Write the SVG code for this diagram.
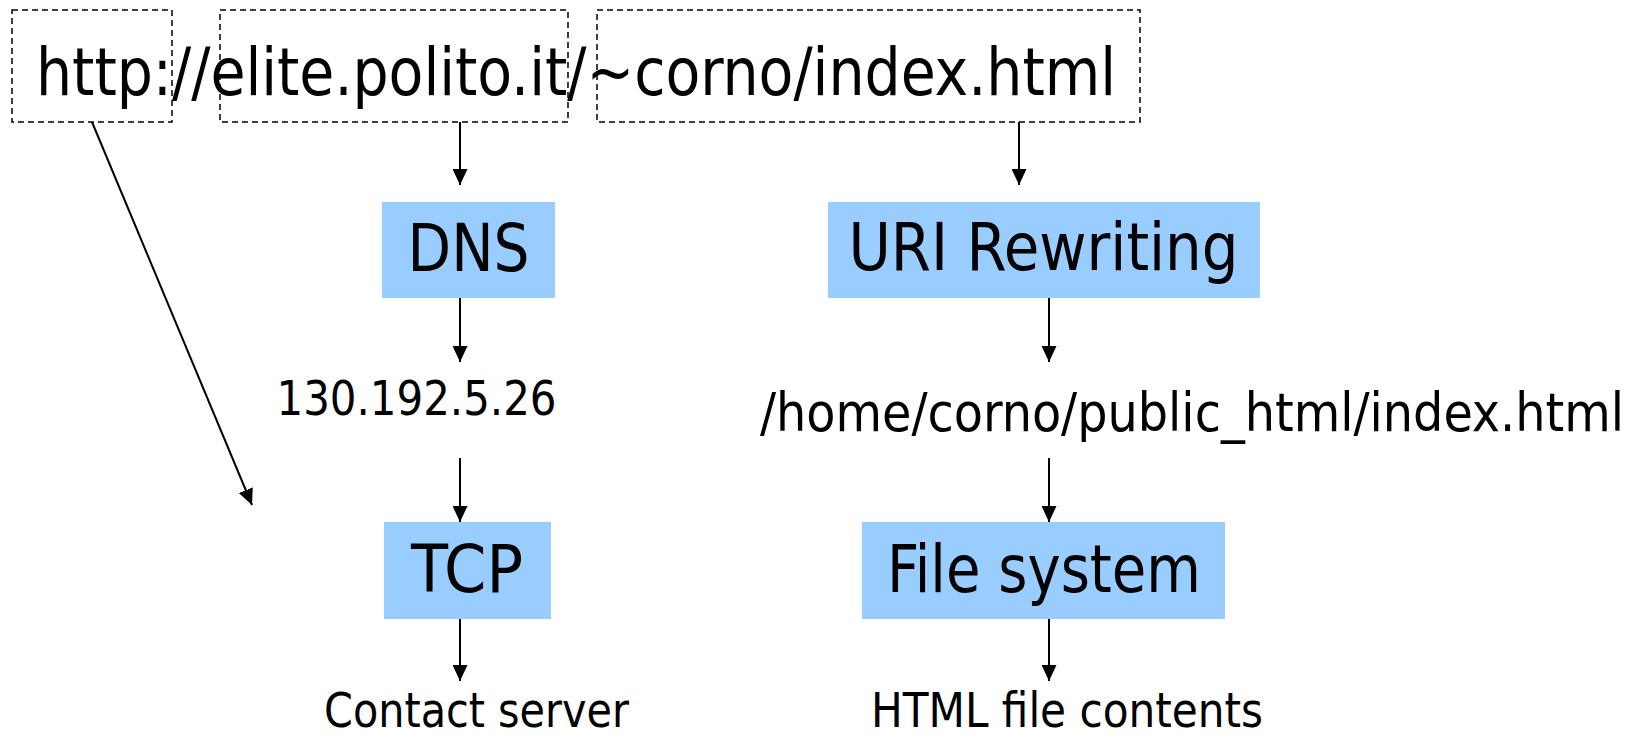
<svg xmlns="http://www.w3.org/2000/svg" width="1643" height="738" viewBox="0 0 1643 738">
<style>
text{font-family:"DejaVu Sans Condensed","DejaVu Sans",sans-serif;font-stretch:condensed;fill:#000}
.big{font-size:65px}
.mid{font-size:53px}
.sm{font-size:48px}
.dash{fill:none;stroke:#000;stroke-width:1.5;stroke-dasharray:6 4}
.box{fill:#99CCFF}
.conn line{stroke:#000;stroke-width:2;marker-end:url(#ah)}
</style>
<defs>
<marker id="ah" markerUnits="userSpaceOnUse" markerWidth="16" markerHeight="15" refX="16" refY="7.5" orient="auto">
<path d="M0,0 L16,7.5 L0,15 z" fill="#000"/>
</marker>
</defs>
<rect width="1643" height="738" fill="#fff"/>
<g id="url">
<rect class="dash" x="12" y="10" width="160" height="112"/>
<rect class="dash" x="220" y="10" width="348" height="112"/>
<rect class="dash" x="597" y="10" width="543" height="112"/>
<text class="big" x="36" y="95" textLength="1080" lengthAdjust="spacingAndGlyphs">http://elite.polito.it/~corno/index.html</text>
</g>
<g id="dns">
<rect class="box" x="382" y="202" width="173" height="96"/>
<text class="big" x="468.5" y="271" text-anchor="middle" textLength="122" lengthAdjust="spacingAndGlyphs">DNS</text>
</g>
<g id="ip">
<text class="sm" x="416.5" y="415" text-anchor="middle" textLength="280" lengthAdjust="spacingAndGlyphs">130.192.5.26</text>
</g>
<g id="tcp">
<rect class="box" x="384" y="522" width="167" height="97"/>
<text class="big" x="467" y="592" text-anchor="middle" textLength="112" lengthAdjust="spacingAndGlyphs">TCP</text>
</g>
<g id="contact">
<text class="sm" x="476.5" y="727" text-anchor="middle" textLength="305" lengthAdjust="spacingAndGlyphs">Contact server</text>
</g>
<g id="uri">
<rect class="box" x="828" y="202" width="432" height="96"/>
<text class="big" x="1043.5" y="270" text-anchor="middle" textLength="390" lengthAdjust="spacingAndGlyphs">URI Rewriting</text>
</g>
<g id="path">
<text class="mid" x="1192" y="431" text-anchor="middle" textLength="864" lengthAdjust="spacingAndGlyphs">/home/corno/public_html/index.html</text>
</g>
<g id="fs">
<rect class="box" x="862" y="522" width="363" height="97"/>
<text class="big" x="1044" y="592" text-anchor="middle" textLength="314" lengthAdjust="spacingAndGlyphs">File system</text>
</g>
<g id="html">
<text class="sm" x="1067" y="727" text-anchor="middle" textLength="392" lengthAdjust="spacingAndGlyphs">HTML file contents</text>
</g>
<g id="connectors" class="conn">
<line x1="92" y1="122" x2="252" y2="505"/>
<line x1="460" y1="122" x2="460" y2="185"/>
<line x1="460" y1="298" x2="460" y2="362"/>
<line x1="460" y1="458" x2="460" y2="522"/>
<line x1="460" y1="619" x2="460" y2="681"/>
<line x1="1019" y1="122" x2="1019" y2="185"/>
<line x1="1049" y1="298" x2="1049" y2="362"/>
<line x1="1049" y1="458" x2="1049" y2="522"/>
<line x1="1049" y1="619" x2="1049" y2="681"/>
</g>
</svg>
